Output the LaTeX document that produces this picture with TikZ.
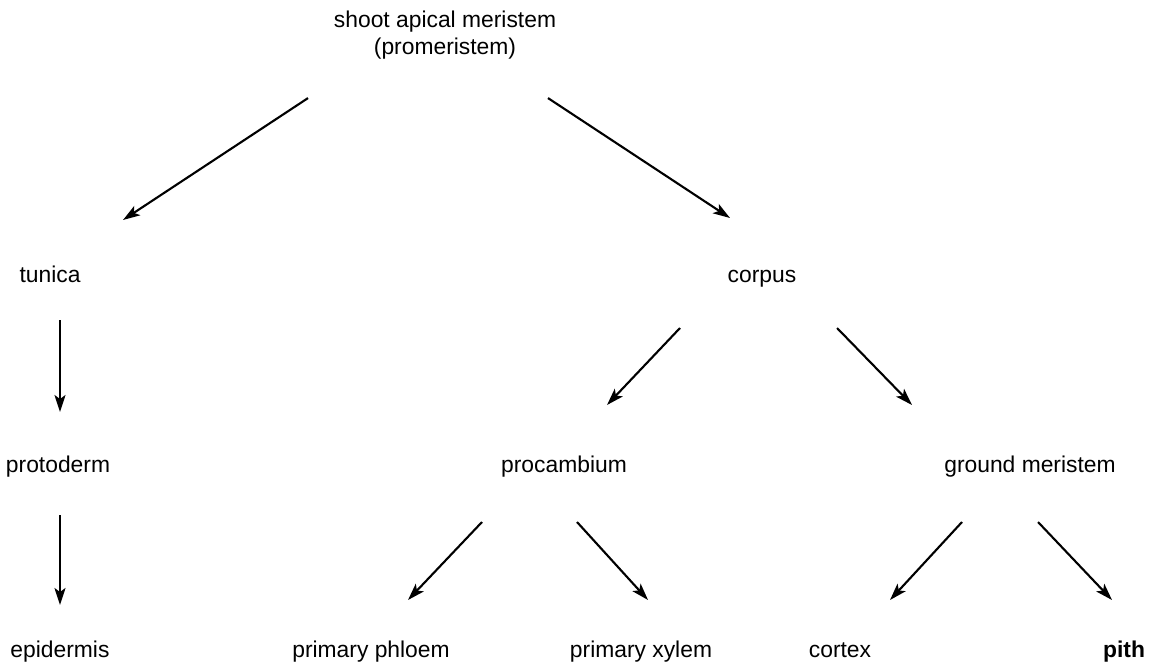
\documentclass[tikz,border=0pt]{standalone}
\usepackage{fontspec}
\setmainfont{Liberation Sans}
\usetikzlibrary{arrows.meta}
\begin{document}
\begin{tikzpicture}[x=0.02cm,y=-0.02cm,
lbl/.style={font=\fontsize{13}{15}\selectfont, align=center, inner sep=0pt, anchor=base},
arr/.style={-{Stealth[length=0.34cm,width=0.22cm,inset=0.08cm]}, line width=1.2pt}]
%\draw[help lines,step=50] (0,0) grid (1151,666);
\useasboundingbox (0,0) rectangle (1151,666);
\node[lbl,anchor=center] (sam) at (445,35) {shoot apical meristem\\(promeristem)};
\node[lbl] (tun) at (50,282) {tunica};
\node[lbl] (cor) at (762,282) {corpus};
\node[lbl] (pdm) at (58,472) {protoderm};
\node[lbl] (pcb) at (564,472) {procambium};
\node[lbl] (gm) at (1030,472) {ground meristem};
\node[lbl] (epi) at (60,657) {epidermis};
\node[lbl] (phl) at (371,657) {primary phloem};
\node[lbl] (xyl) at (641,657) {primary xylem};
\node[lbl] (ctx) at (840,657) {cortex};
\node[lbl,font=\fontsize{13}{15}\selectfont\bfseries] (pith) at (1124,657) {pith};
% arrows: from/to, start shift, end shift
\foreach \a/\b/\sa/\sb in {sam/tun/{(-137,44)}/{(73,-62)}, sam/cor/{(103,44)}/{(-32,-64)},
  tun/pdm/{(10,38)}/{(2,-60)}, pdm/epi/{(2,43)}/{(0,-52)},
  cor/pcb/{(-82,46)}/{(43,-67)}, cor/gm/{(75,46)}/{(-118,-67)},
  pcb/phl/{(-82,50)}/{(37,-57)}, pcb/xyl/{(13,50)}/{(7,-57)},
  gm/ctx/{(-68,50)}/{(50,-57)}, gm/pith/{(8,50)}/{(-12,-57)}}
  \draw[arr] ([shift={\sa}]\a.base) -- ([shift={\sb}]\b.base);
\end{tikzpicture}
\end{document}
